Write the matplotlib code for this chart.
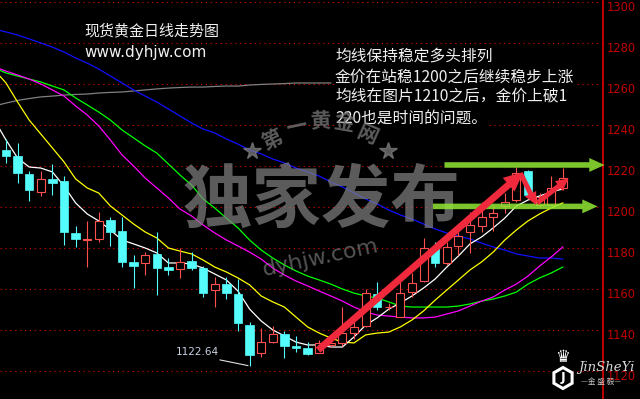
import numpy as np
import matplotlib
matplotlib.use('Agg')
import matplotlib.pyplot as plt
import matplotlib.patches as mpatches
import matplotlib.transforms as mtransforms

plt.rcParams['font.family'] = ['Noto Sans CJK SC', 'DejaVu Sans']

# daily candles, left to right (price)
opens = [1227.8, 1224.9, 1216.1, 1207.3, 1213.7, 1212.7, 1187.3, 1183.9, 1184.4, 1193.7,
         1188.3, 1173.2, 1172.7, 1177.1, 1170.7, 1169.8, 1173.7, 1170.2, 1159.5, 1162.4,
         1157.6, 1142.4, 1128.8, 1134.1, 1138.0, 1132.2, 1131.2, 1128.8, 1132.7, 1133.7,
         1138.5, 1142.0, 1157.6, 1151.2, 1146.3, 1158.5, 1163.9, 1180.0, 1172.7, 1181.0,
         1187.8, 1190.7, 1195.1, 1200.5, 1203.4, 1217.6, 1201.0, 1201.0, 1209.3]
highs = [1233.2, 1231.2, 1217.6, 1217.6, 1221.0, 1215.1, 1190.7, 1193.2, 1197.6, 1195.1,
         1195.1, 1176.6, 1178.0, 1187.8, 1175.1, 1180.0, 1178.0, 1171.2, 1165.9, 1165.9,
         1164.9, 1143.9, 1141.0, 1142.0, 1139.5, 1137.1, 1134.1, 1135.1, 1134.5, 1151.2,
         1144.4, 1160.0, 1163.4, 1153.0, 1163.4, 1167.8, 1184.9, 1182.9, 1182.9, 1187.8,
         1197.6, 1202.4, 1201.0, 1206.8, 1219.5, 1218.0, 1206.8, 1215.1, 1219.0]
lows = [1221.5, 1211.7, 1202.9, 1205.4, 1205.9, 1181.5, 1180.5, 1170.7, 1182.9, 1181.0,
        1170.7, 1160.5, 1166.8, 1157.1, 1166.8, 1165.4, 1169.3, 1156.1, 1151.2, 1155.1,
        1139.5, 1122.64, 1126.8, 1133.7, 1126.3, 1129.3, 1127.8, 1128.8, 1131.5, 1132.2,
        1135.6, 1141.5, 1149.8, 1150.0, 1146.3, 1156.1, 1163.4, 1170.7, 1171.7, 1176.6,
        1177.6, 1188.0, 1188.3, 1197.1, 1202.4, 1205.4, 1200.0, 1201.0, 1208.3]
closes = [1224.9, 1216.6, 1208.3, 1213.7, 1211.7, 1187.8, 1184.4, 1184.2, 1193.2, 1187.8,
          1173.2, 1171.2, 1176.6, 1170.2, 1169.3, 1173.2, 1170.2, 1158.0, 1162.4, 1158.0,
          1143.4, 1127.8, 1134.1, 1138.0, 1132.2, 1131.2, 1128.3, 1133.7, 1133.7, 1138.5,
          1141.5, 1158.0, 1151.2, 1151.4, 1158.0, 1162.9, 1180.0, 1172.7, 1180.5, 1185.9,
          1191.2, 1195.1, 1197.1, 1202.4, 1216.6, 1205.9, 1204.9, 1209.3, 1214.1]

# moving averages; first value belongs to the day before the first candle
ma_white = [1242.4, 1232.7, 1223.9, 1219.5, 1219.0, 1217.1, 1210.2, 1202.0, 1196.6, 1193.2,
            1188.8, 1183.9, 1182.0, 1180.0, 1177.6, 1172.7, 1172.7, 1172.2, 1170.2, 1167.3,
            1164.4, 1159.0, 1150.2, 1144.4, 1140.0, 1137.1, 1134.1, 1132.7, 1132.7, 1131.7,
            1131.7, 1136.6, 1142.4, 1145.9, 1150.2, 1153.2, 1156.6, 1160.5, 1164.9, 1170.7,
            1176.1, 1182.0, 1185.4, 1189.8, 1194.6, 1200.5, 1203.4, 1205.4, 1207.3, 1208.8]
ma_yellow = [1266.8, 1260.5, 1251.2, 1242.4, 1235.6, 1228.8, 1222.0, 1213.7, 1209.3, 1206.8,
             1200.5, 1196.1, 1191.7, 1187.8, 1184.9, 1180.0, 1178.5, 1177.1, 1174.1, 1170.7,
             1168.3, 1165.4, 1162.0, 1156.6, 1153.7, 1151.2, 1146.3, 1141.5, 1138.5, 1136.1,
             1134.1, 1133.7, 1137.6, 1138.5, 1139.0, 1141.5, 1144.9, 1149.3, 1154.6, 1159.5,
             1164.4, 1169.3, 1173.2, 1178.0, 1183.9, 1188.8, 1193.2, 1196.6, 1199.5, 1202.0]
ma_magenta = [1268.3, 1266.3, 1264.4, 1262.4, 1260.0, 1257.1, 1254.1, 1249.3, 1244.9, 1239.5,
              1232.7, 1225.4, 1220.0, 1214.1, 1209.3, 1204.4, 1199.0, 1195.6, 1191.2, 1187.3,
              1183.9, 1181.0, 1178.0, 1174.6, 1170.2, 1166.8, 1163.9, 1161.5, 1159.0, 1156.6,
              1154.1, 1151.2, 1148.8, 1147.3, 1146.8, 1146.3, 1145.9, 1145.9, 1146.3, 1147.8,
              1149.3, 1151.7, 1154.1, 1156.1, 1159.5, 1162.4, 1166.3, 1171.2, 1175.6, 1180.5]
ma_green = [1267.8, 1265.4, 1263.9, 1262.4, 1261.0, 1259.0, 1257.1, 1253.2, 1249.8, 1246.3,
            1242.4, 1237.6, 1233.7, 1229.8, 1226.3, 1221.0, 1215.6, 1210.7, 1203.9, 1199.5,
            1194.6, 1189.8, 1183.9, 1179.0, 1175.1, 1171.7, 1168.8, 1166.3, 1164.4, 1162.4,
            1160.0, 1158.0, 1156.6, 1155.6, 1153.7, 1151.7, 1151.2, 1151.2, 1151.2, 1151.2,
            1151.7, 1152.7, 1154.1, 1155.1, 1156.6, 1158.5, 1162.4, 1165.4, 1167.8, 1170.7]
ma_blue = [1286.8, 1285.4, 1283.9, 1282.0, 1280.0, 1278.0, 1275.6, 1272.7, 1270.2, 1267.3,
           1263.9, 1260.5, 1257.1, 1254.1, 1251.2, 1247.8, 1244.4, 1241.0, 1238.0, 1236.1,
           1233.2, 1230.7, 1227.8, 1225.9, 1223.4, 1221.5, 1219.0, 1217.1, 1215.1, 1212.2,
           1209.8, 1206.8, 1203.9, 1201.5, 1198.5, 1196.1, 1194.1, 1191.7, 1189.3, 1187.3,
           1185.9, 1184.4, 1182.4, 1180.5, 1179.0, 1177.1, 1176.1, 1175.1, 1175.1, 1174.6]
# only the visible part (the rest is under the text block)
ma_gray = [1249.3, 1250.7, 1252.0, 1252.9, 1253.7, 1254.1, 1254.6, 1254.9, 1255.1, 1255.6,
           1255.9, 1256.1, 1256.6, 1257.1, 1257.6, 1258.0, 1258.3, 1258.5, 1258.5, 1258.8,
           1259.0, 1259.0, 1259.5, 1259.8, 1260.0, 1260.2, 1260.5, 1260.5, 1260.5, 1260.5]

price_ticks = [1120, 1140, 1160, 1180, 1200, 1220, 1240, 1260, 1280, 1300]
low_label = '1122.64'
title = '现货黄金日线走势图'
site = 'www.dyhjw.com'
notes = ['均线保持稳定多头排列',
         '金价在站稳1200之后继续稳步上涨',
         '均线在图片1210之后，金价上破1',
         '220也是时间的问题。']

W, H = 640, 399
UP = '#ff5050'
DOWN = '#54fcfc'
WM = '#838383'

fig = plt.figure(figsize=(W/100, H/100), dpi=100, facecolor='black')
ax = fig.add_axes([0, 0, 603/W, 1], facecolor='black')
ax.set_xlim(-6/11.6, 597/11.6)
ax.set_ylim(1300 - 397/2.05, 1300 + 2/2.05)
ax.set_xticks([])
ax.set_yticks([])
for s in ['top', 'bottom', 'left']:
	ax.spines[s].set_visible(False)
ax.spines['right'].set_color('#e00000')
ax.spines['right'].set_linewidth(1.2)

# pixel coordinates (y down) for the decorations
px = mtransforms.Affine2D().scale(1.0/W, -1.0/H).translate(0, 1) + fig.transFigure

for v in price_ticks:
	ax.axhline(v, color='#c00000', lw=0.8, ls=(0, (1.2, 3.2)), zorder=0.8)
	ax.text(1.0, v, str(v), color='#c00000', fontsize=8.3, family='DejaVu Sans',
		ha='left', va='top', clip_on=False,
		transform=mtransforms.offset_copy(ax.get_yaxis_transform(), fig=fig, x=4, y=1, units='dots'))

# watermark, laid over the chart half transparent
ax.text(322, 203, '独家发布', transform=px, fontsize=50, fontweight='bold', color=WM, alpha=0.7,
	ha='center', va='center', zorder=7.5)
arc = [('第', 272, 140, 25), ('一', 297, 127, 12), ('黄', 320, 121, 2), ('金', 344, 122, -10), ('网', 367, 134, -24)]
for ch, x, y, r in arc:
	ax.text(x, y, ch, transform=px, fontsize=15, fontweight='bold', color=WM, alpha=0.7,
		rotation=r, ha='center', va='center', zorder=7.5)
ax.plot([252, 388], [151, 151], ls='none', marker='*', ms=13, color=WM, alpha=0.7,
	transform=px, zorder=7.5)
ax.text(321, 258, 'dyhjw.com', transform=px, fontsize=16, family='DejaVu Sans', color=WM, alpha=0.65,
	rotation=12, ha='center', va='center', zorder=7.5)

# moving averages
xs = np.arange(-1, len(opens))
ax.plot(xs[:len(ma_gray)], ma_gray, color='#808080', lw=0.9, zorder=1)
ax.plot(xs, ma_blue, color='#1010ff', lw=0.9, zorder=1)
ax.plot(xs, ma_green, color='#00ff00', lw=0.9, zorder=1)
ax.plot(xs, ma_magenta, color='#ff00ff', lw=0.9, zorder=1)
ax.plot(xs, ma_yellow, color='#ffff00', lw=0.9, zorder=1)
ax.plot(xs, ma_white, color='#ffffff', lw=0.9, zorder=1)

# candles
for i in range(len(opens)):
	o, h, l, c = opens[i], highs[i], lows[i], closes[i]
	if c >= o:
		ax.vlines(i, c, h, color=UP, lw=0.8, zorder=2)
		ax.vlines(i, l, o, color=UP, lw=0.8, zorder=2)
		ax.bar(i, max(c - o, 0.05), bottom=o, width=0.7, facecolor='black', edgecolor=UP, lw=0.8, zorder=2.5)
	else:
		ax.vlines(i, l, h, color=DOWN, lw=0.8, zorder=2)
		ax.bar(i, o - c, bottom=c, width=0.72, facecolor=DOWN, edgecolor=DOWN, lw=0.5, zorder=2.5)

# low marker
i_low = int(np.argmin(lows))
ax.plot([i_low - 2.55, i_low - 0.15], [1125.4, lows[i_low]], color='#e0e0e0', lw=0.8, zorder=3)
ax.text(i_low - 2.6, 1129.3, low_label, color='#c8d0e0', fontsize=7.6, family='DejaVu Sans',
	ha='right', va='center', zorder=3)

# arrows
def arrow(p0, p1, color, tail, head_l, head_w, alpha=1.0):
	a = mpatches.FancyArrowPatch(p0, p1, arrowstyle=mpatches.ArrowStyle('simple', head_length=head_l,
		head_width=head_w, tail_width=tail), mutation_scale=1, color=color, alpha=alpha,
		lw=0, shrinkA=0, shrinkB=0, zorder=9, clip_on=False)
	ax.add_patch(a)

arrow((37.8, 1220.5), (51.6, 1220.5), '#90e834', 4.0, 11, 10, 0.85)
arrow((36.8, 1200.3), (51.0, 1200.3), '#90e834', 4.0, 11, 10, 0.85)
arrow((26.9, 1130.2), (44.6, 1217.1), '#f02a3c', 5.0, 14, 13)
arrow((44.4, 1216.0), (45.7, 1201.0), '#f02a3c', 3.6, 9, 9)
arrow((45.8, 1202.0), (48.5, 1214.0), '#f02a3c', 3.6, 9, 9)

# texts
ax.text(84, 31, title, transform=px, fontsize=10.8, color='#f0f0f0', ha='left', va='center', zorder=7)
ax.text(84, 52, site, transform=px, fontsize=11, family='DejaVu Sans', color='#f0f0f0',
	ha='left', va='center', zorder=7)
for k, line in enumerate(notes):
	ax.text(335, 56 + k*20.7, line, transform=px, fontsize=11.3, color='#f0f0f0', ha='left',
		va='center', zorder=7, bbox=dict(facecolor='black', edgecolor='none', pad=0.5))

# logo
ax.text(563, 357, '\u265b', transform=px, fontsize=12, family='DejaVu Sans', color='white',
	ha='center', va='center', zorder=10)
ax.add_patch(mpatches.RegularPolygon((563, 378), numVertices=6, radius=10.5, transform=px,
	facecolor='black', edgecolor='white', lw=2.2, zorder=10, clip_on=False))
ax.text(563, 378, 'J', transform=px, fontsize=9, fontweight='bold', family='DejaVu Sans',
	color='white', ha='center', va='center', zorder=11)
ax.text(578, 367, 'JinSheYi', transform=px, fontsize=9.5, family='DejaVu Serif', style='italic',
	color='#d8d8d8', ha='left', va='center', zorder=10)
ax.text(601, 382, '—金 盛 毅—', transform=px, fontsize=5.5, color='#c8c8c8',
	ha='center', va='center', zorder=10)

fig.savefig('out.png', dpi=100, facecolor='black')
